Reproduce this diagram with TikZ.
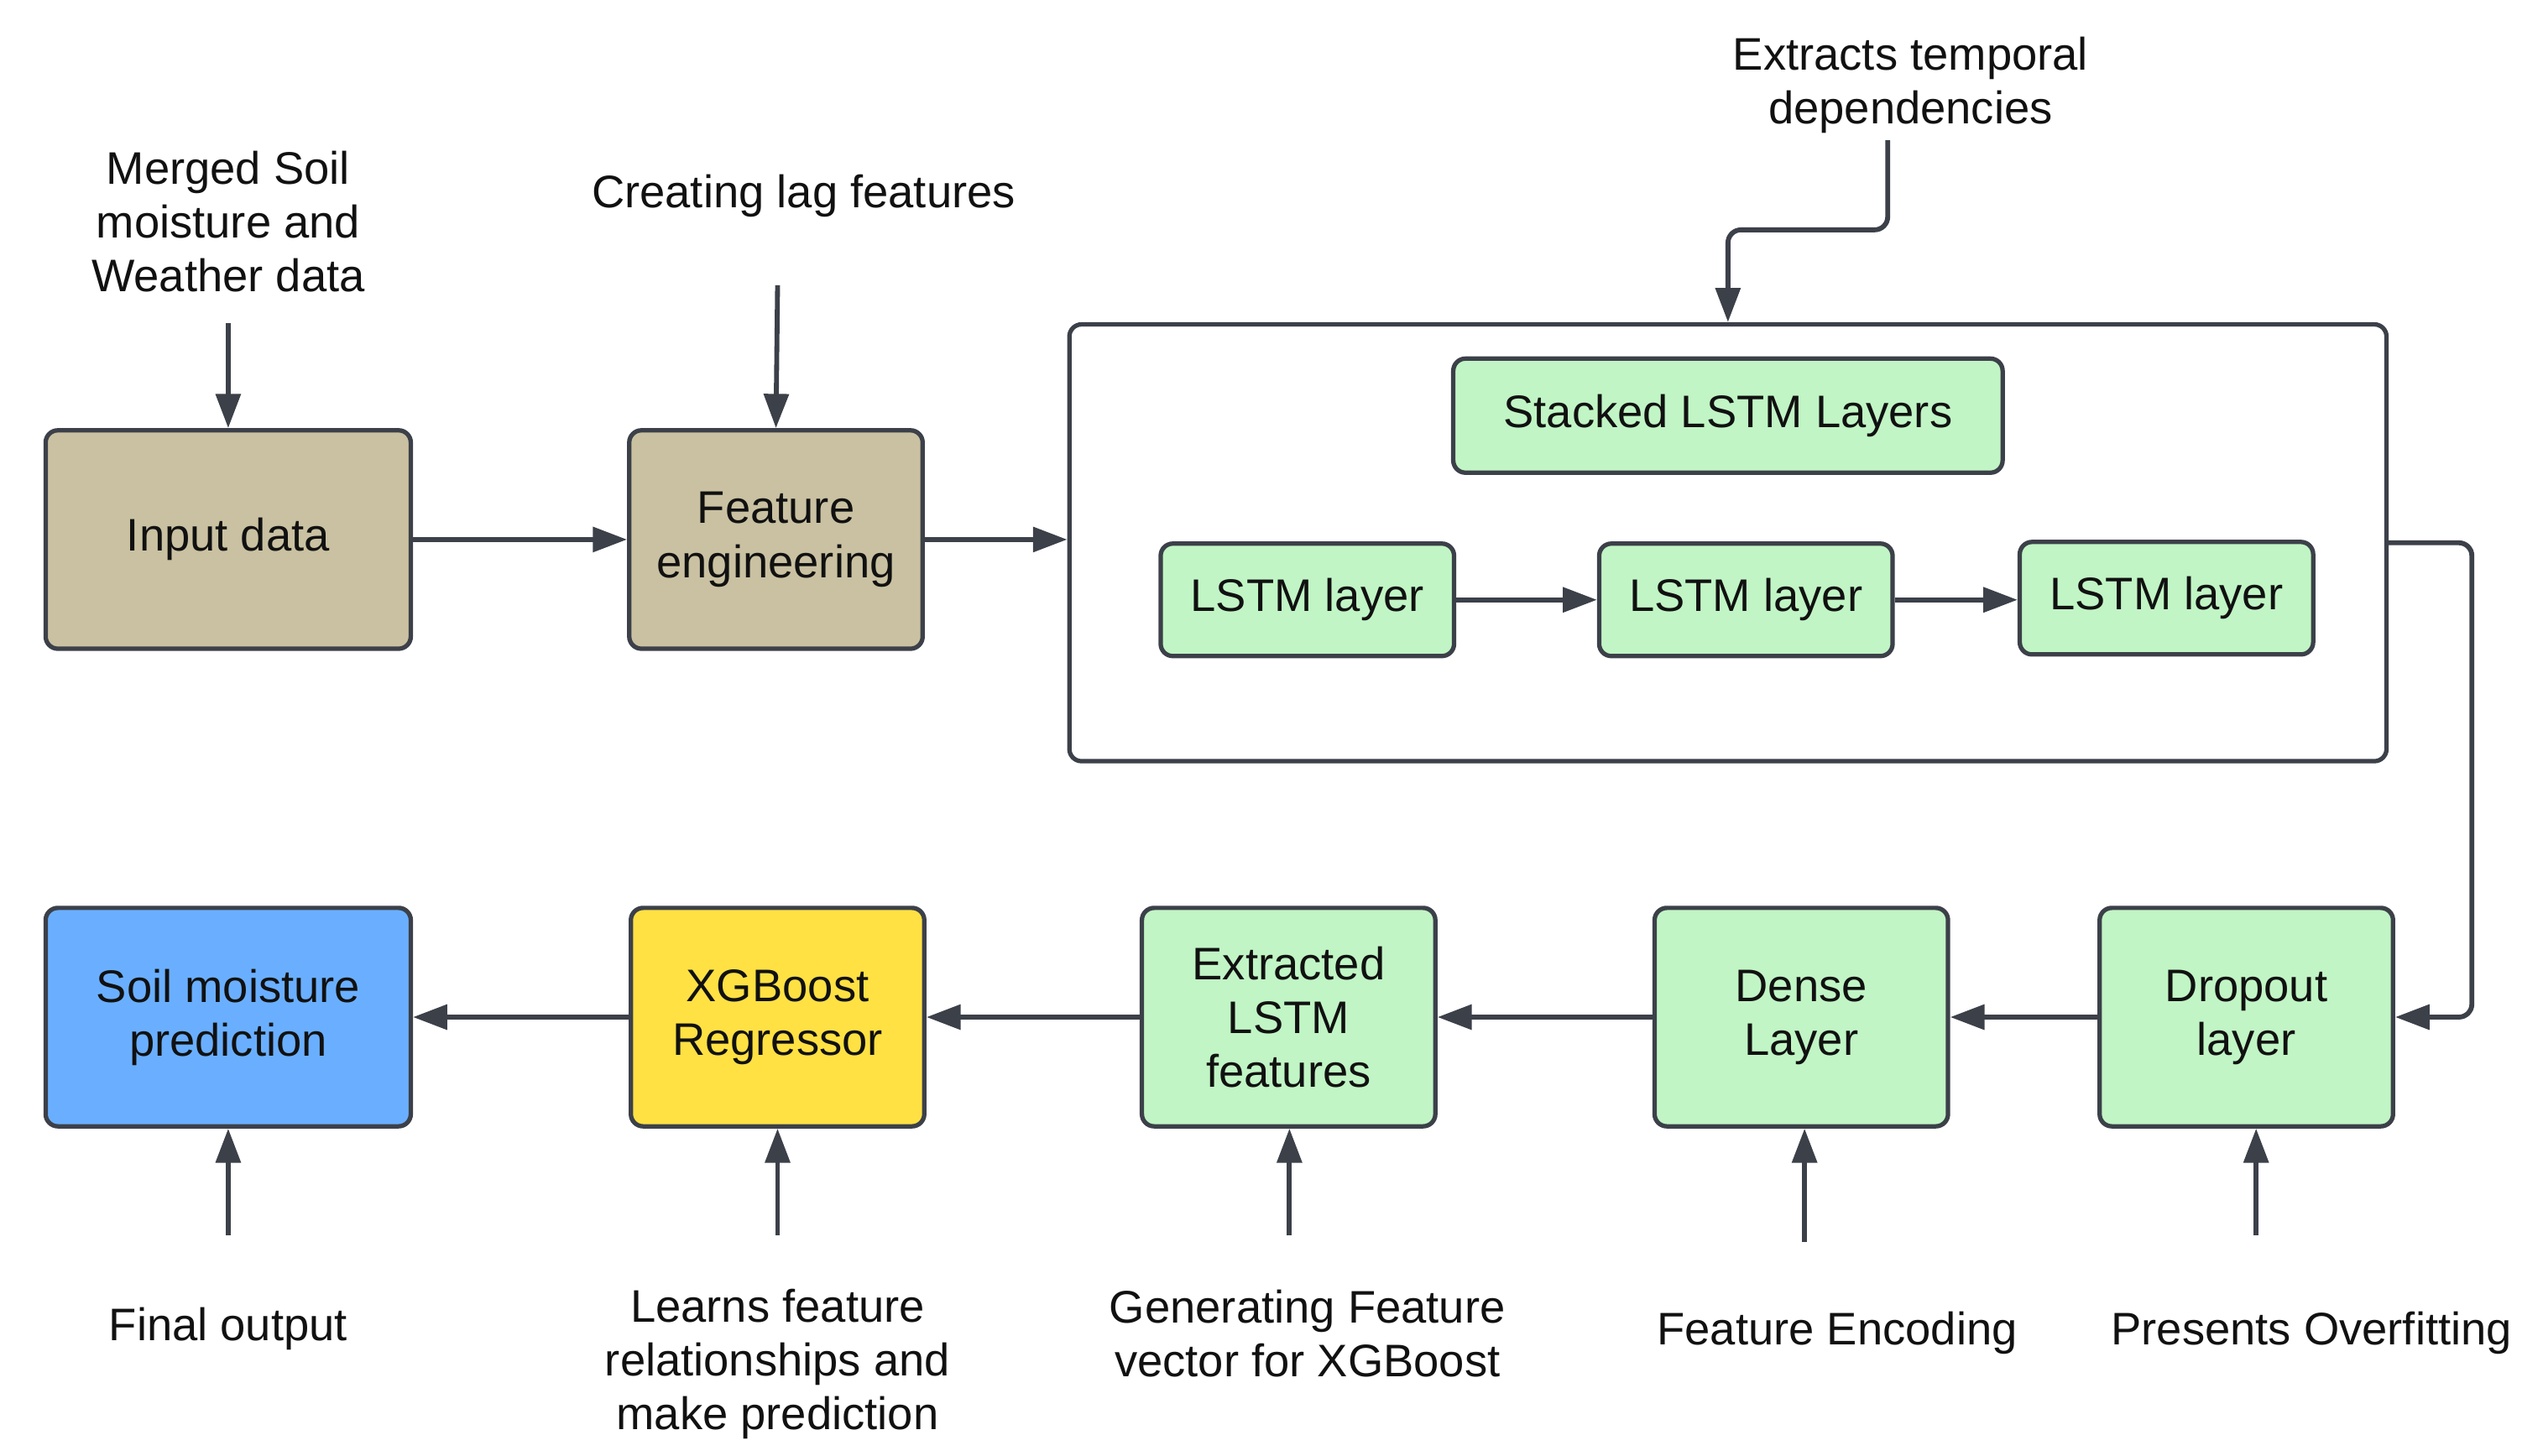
\documentclass[tikz,border=0pt]{standalone}
\usepackage{fontspec}
\setmainfont{Liberation Sans}
\usetikzlibrary{arrows.meta}
\definecolor{edgec}{HTML}{3C4049}
\definecolor{tanc}{HTML}{C9C1A1}
\definecolor{lgreen}{HTML}{C1F5C5}
\definecolor{sblue}{HTML}{6AAFFF}
\definecolor{syellow}{HTML}{FFE143}
\definecolor{txt}{HTML}{111111}
\newcommand\fsz{\fontsize{28}{33}\selectfont}
\begin{document}
\begin{tikzpicture}[x=1pt,y=-1pt,
  box/.style={draw=edgec, line width=2.7pt, rounded corners=7.5pt, align=center,
    inner sep=0pt, font=\fsz, text=txt},
  bigbox/.style={box, minimum width=224pt, minimum height=134pt},
  midbox/.style={box, minimum width=180pt, minimum height=134pt},
  lstm/.style={box, fill=lgreen, minimum width=180pt, minimum height=69pt},
  lbl/.style={align=center, font=\fsz, text=txt, inner sep=0pt},
  arr/.style={draw=edgec, line width=3pt, -{Triangle[length=21pt,width=15pt]}}
]
\useasboundingbox (0,0) rectangle (1560,893);

% top row
\node[bigbox, fill=tanc] (input) at (140,331) {Input data};
\node[midbox, fill=tanc] (feng) at (476,331) {Feature\\engineering};
\node[box, fill=white, minimum width=808pt, minimum height=268pt] (cont) at (1060,333) {};
\node[box, fill=lgreen, minimum width=337pt, minimum height=70pt] (stack) at (1060,255) {Stacked LSTM Layers};
\node[lstm] (l1) at (802,368) {LSTM layer};
\node[lstm] (l2) at (1071,368) {LSTM layer};
\node[lstm] (l3) at (1329,367) {LSTM layer};

% bottom row
\node[bigbox, fill=sblue] (soil) at (140,624) {Soil moisture\\prediction};
\node[midbox, fill=syellow] (xgb) at (477,624) {XGBoost\\Regressor};
\node[midbox, fill=lgreen] (extr) at (790.5,624) {Extracted\\LSTM\\features};
\node[midbox, fill=lgreen] (dense) at (1105,624) {Dense\\Layer};
\node[midbox, fill=lgreen] (drop) at (1378,624) {Dropout\\layer};

% labels
\node[lbl] (tmerge) at (140,136) {Merged Soil\\moisture and\\Weather data};
\node[lbl] (tlag) at (493,120) {Creating lag features};
\node[lbl] (ttemp) at (1172,52) {Extracts temporal\\dependencies};
\node[lbl] (tfinal) at (140,815) {Final output};
\node[lbl] (tlearn) at (477,837) {Learns feature\\relationships and\\make prediction};
\node[lbl] (tgen) at (802,818) {Generating Feature\\vector for XGBoost};
\node[lbl] (tenc) at (1127,818) {Feature Encoding};
\node[lbl] (tover) at (1418,818) {Presents Overfitting};

% label connector ends
\coordinate (cmerge) at (140,198);
\coordinate (clag) at (477,175);
\coordinate (ctemp) at (1158,86);
\coordinate (cfinal) at (140,758);
\coordinate (clearn) at (477,758);
\coordinate (cgen) at (791,758);
\coordinate (cenc) at (1107,762);
\coordinate (cover) at (1384,758);

% connectors
\draw[arr] (input) -- (feng);
\draw[arr] (feng.east) -- (cont.west |- feng.east);
\draw[arr] (l1.east |- 0,368) -- (l2.west |- 0,368);
\draw[arr] (l2.east |- 0,368) -- (l3.west |- 0,368);
\draw[arr, rounded corners=8pt] (cont.east) -- ++(51,0) |- (drop.east);
\draw[arr] (drop) -- (dense);
\draw[arr] (dense) -- (extr);
\draw[arr] (extr) -- (xgb);
\draw[arr] (xgb) -- (soil);

\draw[arr] (cmerge) -- (input.north);
\draw[arr] (clag) -- (feng.north);
\draw[arr, rounded corners=8pt] (ctemp) -- ++(0,55) -| (cont.north);
\draw[arr] (cfinal) -- (soil.south);
\draw[arr] (clearn) -- (xgb.south);
\draw[arr] (cgen) -- (extr.south -| cgen);
\draw[arr] (cenc) -- (dense.south -| cenc);
\draw[arr] (cover) -- (drop.south -| cover);
\end{tikzpicture}
\end{document}
